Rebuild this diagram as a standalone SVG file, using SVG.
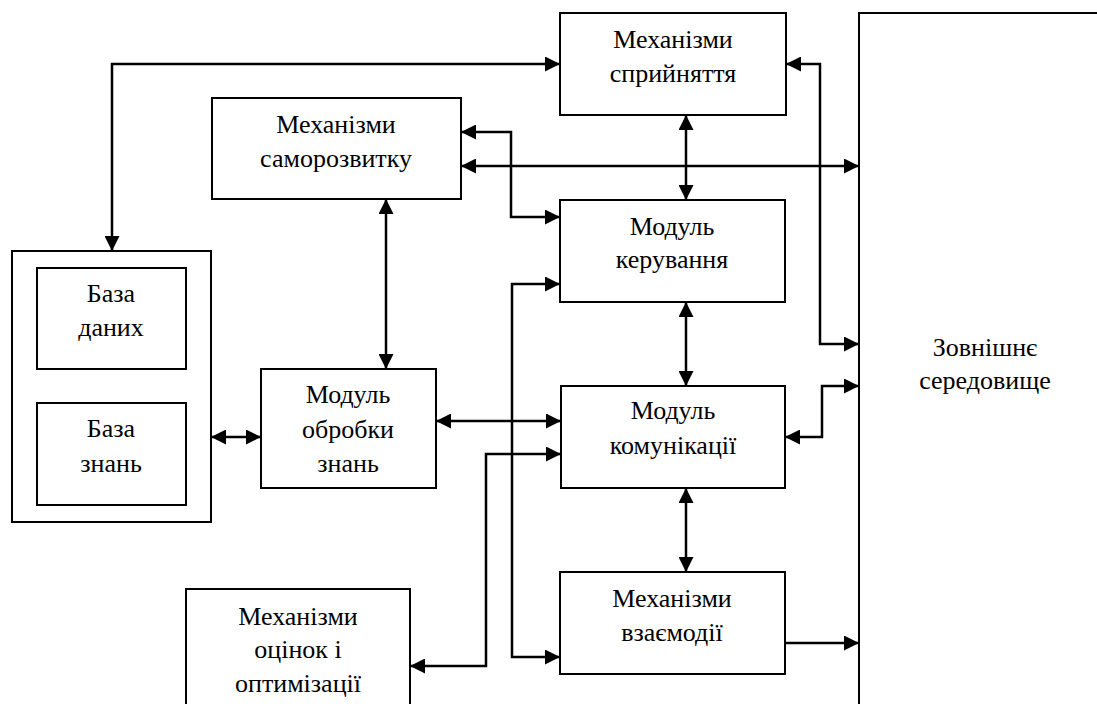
<svg xmlns="http://www.w3.org/2000/svg" width="1097" height="704" viewBox="0 0 1097 704">
<defs>
<marker id="ah" markerUnits="userSpaceOnUse" markerWidth="15" markerHeight="15" refX="15" refY="7.5" orient="auto-start-reverse">
<path d="M0,0 L15,7.5 L0,15 z" fill="#000"/>
</marker>
</defs>
<style>
.box{fill:#fff;stroke:#000;stroke-width:2}
.t{font-family:"Liberation Serif","Times New Roman",serif;font-size:26px;fill:#000;text-anchor:middle}
.c{fill:none;stroke:#000;stroke-width:2.5}
.b{marker-start:url(#ah);marker-end:url(#ah)}
.e{marker-end:url(#ah)}
</style>
<rect width="1097" height="704" fill="#fff"/>
<g id="zovnishnie">
<rect class="box" x="859" y="13" width="260" height="720"/>
<text class="t" x="985" y="356">Зовнішнє</text>
<text class="t" x="985" y="389">середовище</text>
</g>
<g id="spryiniattia">
<rect class="box" x="560" y="13" width="226" height="102"/>
<text class="t" x="673" y="48">Механізми</text>
<text class="t" x="673" y="82">сприйняття</text>
</g>
<g id="samorozvytok">
<rect class="box" x="212" y="98" width="249" height="101"/>
<text class="t" x="336" y="133">Механізми</text>
<text class="t" x="336" y="167">саморозвитку</text>
</g>
<g id="keruvannia">
<rect class="box" x="560" y="200" width="225" height="102"/>
<text class="t" x="672" y="235">Модуль</text>
<text class="t" x="672" y="268">керування</text>
</g>
<g id="bazy">
<rect class="box" x="12" y="251" width="199" height="271"/>
</g>
<g id="baza-danykh">
<rect class="box" x="37" y="268" width="149" height="101"/>
<text class="t" x="111" y="302">База</text>
<text class="t" x="111" y="336">даних</text>
</g>
<g id="baza-znan">
<rect class="box" x="37" y="403" width="149" height="102"/>
<text class="t" x="111" y="437">База</text>
<text class="t" x="111" y="472">знань</text>
</g>
<g id="obrobka">
<rect class="box" x="261" y="369" width="175" height="119"/>
<text class="t" x="348" y="403">Модуль</text>
<text class="t" x="348" y="438">обробки</text>
<text class="t" x="348" y="472">знань</text>
</g>
<g id="komunikatsiia">
<rect class="box" x="561" y="386" width="224" height="102"/>
<text class="t" x="673" y="419">Модуль</text>
<text class="t" x="673" y="454">комунікації</text>
</g>
<g id="vzaiemodiia">
<rect class="box" x="560" y="572" width="225" height="102"/>
<text class="t" x="672" y="607">Механізми</text>
<text class="t" x="672" y="641">взаємодії</text>
</g>
<g id="otsinky">
<rect class="box" x="186" y="589" width="224" height="140"/>
<text class="t" x="298" y="625">Механізми</text>
<text class="t" x="298" y="658">оцінок і</text>
<text class="t" x="298" y="692">оптимізації</text>
</g>
<g id="connectors">
<path class="c b" d="M112,251 V64 H560"/>
<path class="c b" d="M786,64 H820 V344 H859"/>
<path class="c b" d="M686,115 V200"/>
<path class="c b" d="M461,132 H511 V217 H560"/>
<path class="c b" d="M461,166 H859"/>
<path class="c b" d="M386,199 V369"/>
<path class="c b" d="M211,437 H261"/>
<path class="c b" d="M436,421 H561"/>
<path class="c b" d="M686,302 V386"/>
<path class="c b" d="M785,437 H822 V386 H859"/>
<path class="c b" d="M686,488 V572"/>
<path class="c e" d="M785,643 H859"/>
<path class="c b" d="M560,284 H512 V657 H560"/>
<path class="c b" d="M561,454 H486 V666 H410"/>
</g>
</svg>
